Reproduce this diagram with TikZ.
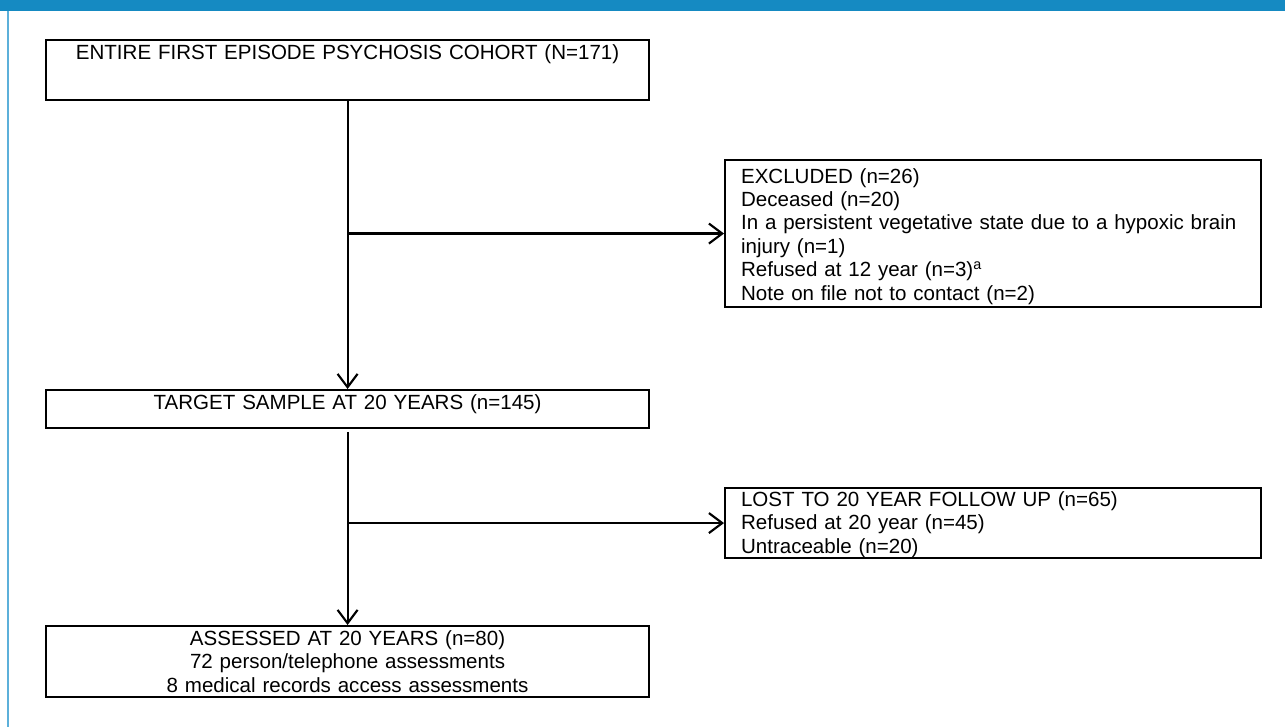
\documentclass[tikz,border=0pt]{standalone}
\usepackage{fontspec}
\setmainfont{Liberation Sans}
\usetikzlibrary{arrows.meta}
\definecolor{barblue}{HTML}{158AC2}
\definecolor{edgeblue}{HTML}{5CB0DA}
\tikzset{
%Define standard arrow tip
>={Straight Barb[length=10pt,width=15pt]},
%Define style for the boxes of the chart
stage/.style={draw, line width=1.6pt, anchor=north west, inner xsep=0pt, inner ysep=0pt, align=center, font=\fontsize{15.4}{17.6}\selectfont},
sidebox/.style={stage, align=left, inner xsep=12pt, text width=378pt},
%Define style for the connecting lines
flow/.style={->, line width=1.6pt},
}

\begin{document}
\begin{tikzpicture}[x=0.75pt,y=-0.75pt]
\useasboundingbox (0,0) rectangle (1285,727);
% Draw the frame
\fill[barblue] (0,0) rectangle (1285,11);
\draw[edgeblue, line width=1.5pt] (8,11) -- (8,727);
% Draw the main stages
\node (entire) [stage, text width=452.25pt, text height=14.25pt, text depth=30.75pt] at (45,39) {ENTIRE FIRST EPISODE PSYCHOSIS COHORT (N=171)};
\node (target) [stage, text width=452.25pt, text height=14.25pt, text depth=14.25pt] at (45,389) {TARGET SAMPLE AT 20 YEARS (n=145)};
\node (assessed) [stage, text width=452.25pt, text height=14.25pt, text depth=39pt] at (45,625) {ASSESSED AT 20 YEARS (n=80)\\72 person/telephone assessments\\8 medical records access assessments};
% Draw the side boxes
\node (excluded) [sidebox, text height=17.25pt, text depth=93pt] at (724,159) {EXCLUDED (n=26)\\Deceased (n=20)\\In a persistent vegetative state due to a hypoxic brain\\injury (n=1)\\Refused at 12 year (n=3)\textsuperscript{a}\\Note on file not to contact (n=2)};
\node (lost) [sidebox, text height=13.5pt, text depth=39pt] at (724,487) {LOST TO 20 YEAR FOLLOW UP (n=65)\\Refused at 20 year (n=45)\\Untraceable (n=20)};
% Draw the flow between the stages
\draw[flow] (entire.south) -- (target.north);
\draw[flow] (entire.south |- excluded.west) -- (excluded.west);
\draw[flow, shorten <=2pt] (target.south) -- (assessed.north);
\draw[flow] (target.south |- lost.west) -- (lost.west);
\end{tikzpicture}
\end{document}
